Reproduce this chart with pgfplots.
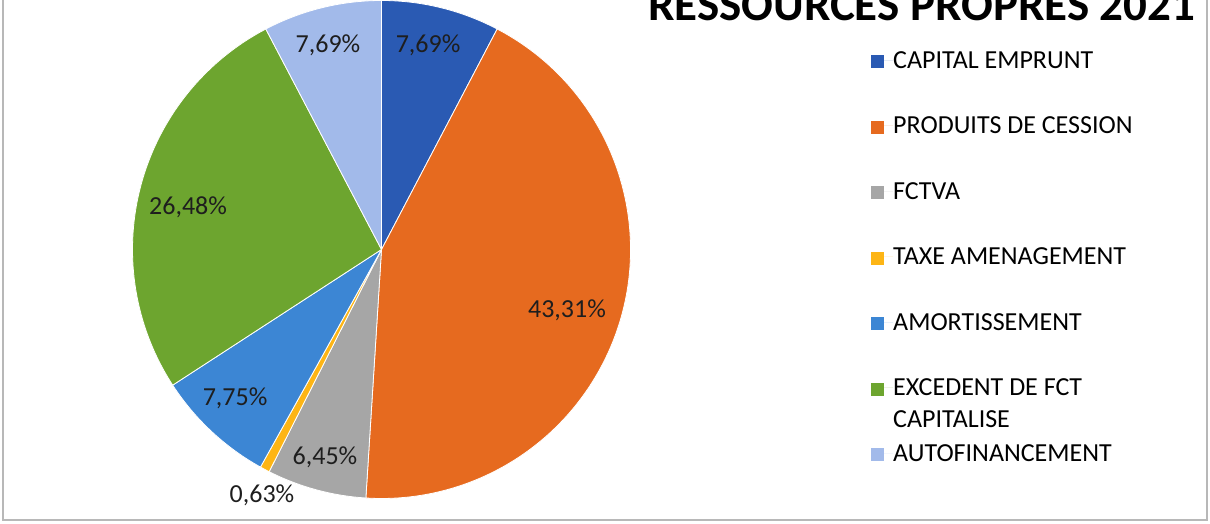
\documentclass[border=0pt]{standalone}
\usepackage{pgfplots}
\pgfplotsset{compat=1.18}
\usepackage{pgfplotstable}
\usepackage{fontspec}
\setmainfont{Carlito}
\definecolor{cA}{HTML}{2A5AB3}
\definecolor{cB}{HTML}{E66A1F}
\definecolor{cC}{HTML}{A6A6A6}
\definecolor{cD}{HTML}{FDB515}
\definecolor{cE}{HTML}{3C86D4}
\definecolor{cF}{HTML}{6DA52F}
\definecolor{cG}{HTML}{A2BAEA}
\definecolor{labcol}{HTML}{1E1E1E}

% value (percent), slice colour, label position (axis units)
\pgfplotstableread{
value clr lx ly
7.69  cA  0.187  0.821
43.31 cB  0.745 -0.243
6.45  cC -0.227 -0.833
0.63  cD -0.480 -0.986
7.75  cE -0.588 -0.596
26.48 cF -0.777  0.171
7.69  cG -0.215  0.821
}\piedata

\begin{document}
\begin{tikzpicture}
\path[use as bounding box] (0bp,0bp) rectangle (1210bp,524bp);
\clip (0bp,0bp) rectangle (1210bp,524bp);
\begin{axis}[
  at={(381.5bp,274.5bp)}, anchor=center,
  scale only axis, width=498bp, height=498bp,
  xmin=-1, xmax=1, ymin=-1, ymax=1,
  hide axis, clip=false,
  title={RESSOURCES PROPRES 2021},
  title style={at={(1.035,0.947)}, anchor=base west, inner sep=0pt,
    font=\bfseries\fontsize{47bp}{50bp}\selectfont, text=black},
  legend cell align=left,
  legend style={draw=none, fill=none, at={(1.483,0.8966)}, anchor=north west,
    font=\fontsize{26bp}{32bp}\selectfont, row sep=49.5bp, inner sep=0pt,
    nodes={inner sep=0pt, text height=16bp, text depth=0pt}},
  legend image code/.code={\fill[#1] (0bp,-8bp) rectangle (13bp,5bp); \path (0bp,0bp) -- (22bp,0bp);},
]
\pgfplotstablegetrowsof{\piedata}
\pgfmathtruncatemacro\lastrow{\pgfplotsretval-1}
\def\cum{0}
\pgfplotsforeachungrouped \i in {0,...,\lastrow}{%
  \pgfplotstablegetelem{\i}{value}\of\piedata \let\sval\pgfplotsretval
  \pgfplotstablegetelem{\i}{clr}\of\piedata \let\slicecol\pgfplotsretval
  \pgfmathsetmacro\sa{90-3.6*\cum}%
  \pgfmathsetmacro\ea{90-3.6*(\cum+\sval)}%
  \pgfmathsetmacro\cum{\cum+\sval}%
  \edef\temp{\noexpand\fill[\slicecol, draw=white, line width=0.8bp] (axis cs:0,0) -- ++(\sa:249bp) arc[start angle=\sa, end angle=\ea, radius=249bp] -- cycle;}%
  \temp
}
\addplot[draw=none, mark=none, forget plot, point meta=explicit,
  nodes near coords={\pgfmathprintnumber[fixed,fixed zerofill,precision=2,use comma,assume math mode=true]{\pgfplotspointmeta}\%},
  nodes near coords align=center,
  every node near coord/.append style={anchor=center, inner sep=0pt, text=labcol,
    font=\fontsize{26bp}{30bp}\selectfont}]
  table[x=lx, y=ly, meta=value] {\piedata};

\addlegendimage{fill=cA, draw=none}\addlegendentry{CAPITAL EMPRUNT}
\addlegendimage{fill=cB, draw=none}\addlegendentry{PRODUITS DE CESSION}
\addlegendimage{fill=cC, draw=none}\addlegendentry{FCTVA}
\addlegendimage{fill=cD, draw=none}\addlegendentry{TAXE AMENAGEMENT}
\addlegendimage{fill=cE, draw=none}\addlegendentry{AMORTISSEMENT}
\addlegendimage{fill=cF, draw=none}\addlegendentry{{\begin{tabular}[t]{@{}l@{}}EXCEDENT DE FCT\\CAPITALISE\end{tabular}}}
\addlegendimage{fill=cG, draw=none}\addlegendentry{AUTOFINANCEMENT}
\end{axis}
\draw[color=black!28, line width=2bp] (3bp,600bp) -- (3bp,4bp) -- (1207bp,4bp) -- (1207bp,600bp);
\end{tikzpicture}
\end{document}
